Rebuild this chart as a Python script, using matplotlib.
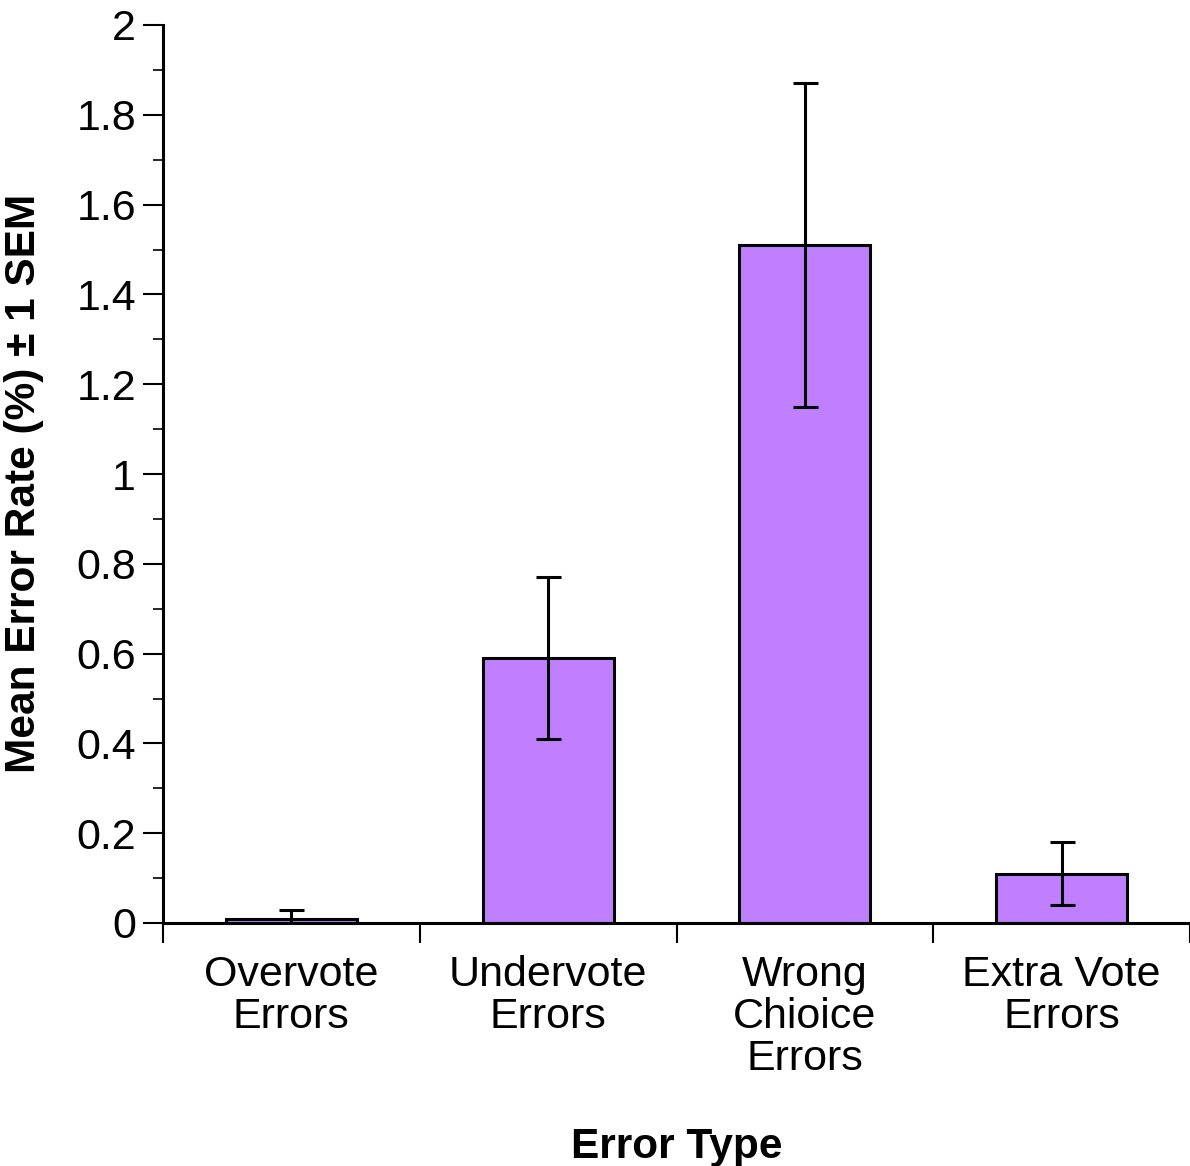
import matplotlib
matplotlib.use("Agg")
import matplotlib.pyplot as plt
import numpy as np
from matplotlib.ticker import MultipleLocator, FixedLocator

categories = ["Overvote\nErrors", "Undervote\nErrors", "Wrong\nChioice\nErrors", "Extra Vote\nErrors"]
means = [0.01, 0.59, 1.51, 0.11]
sems = [0.02, 0.18, 0.36, 0.07]
yticks = [0, 0.2, 0.4, 0.6, 0.8, 1, 1.2, 1.4, 1.6, 1.8, 2]
ytick_labels = ["0", "0.2", "0.4", "0.6", "0.8", "1", "1.2", "1.4", "1.6", "1.8", "2"]

plt.rcParams['font.family'] = ['Liberation Sans', 'DejaVu Sans']

fig = plt.figure(figsize=(11.9, 11.66), dpi=100)
ax = fig.add_axes([163/1190, 1 - 923/1166, 1 - 163/1190, (923 - 25)/1166])

x = np.arange(len(categories))
ax.bar(x, means, width=0.51, color="#BF7FFF", edgecolor="black", linewidth=2.2, zorder=2)
ax.errorbar(x, means, yerr=sems, fmt='none', ecolor='black', elinewidth=2.2,
            capsize=9, capthick=2.2, zorder=3)

ax.set_xlim(-0.5, 3.5)
ax.set_ylim(0, 2)
ax.spines['top'].set_visible(False)
ax.spines['right'].set_visible(False)
ax.spines['left'].set_linewidth(2.2)
ax.spines['bottom'].set_linewidth(2.2)

ax.yaxis.set_major_locator(FixedLocator(yticks))
ax.set_yticklabels(ytick_labels, fontsize=31)
ax.yaxis.set_minor_locator(MultipleLocator(0.1))
ax.tick_params(axis='y', which='major', length=14.4, width=1.5, pad=5, direction='out')
ax.tick_params(axis='y', which='minor', length=7.2, width=1.2, direction='out')

ax.set_xticks(x)
ax.set_xticklabels(categories, fontsize=31, linespacing=1.07)
ax.xaxis.set_minor_locator(FixedLocator([-0.5, 0.5, 1.5, 2.5, 3.5]))
ax.tick_params(axis='x', which='major', length=0, pad=23)
ax.tick_params(axis='x', which='minor', length=14.4, width=1.5, direction='out')

ax.set_ylabel("Mean Error Rate (%) \u00b1 1 SEM", fontsize=30.5, fontweight='bold')
ax.yaxis.set_label_coords(-0.116, 0.49)
ax.set_xlabel("Error Type", fontsize=30.5, fontweight='bold', labelpad=34)

fig.savefig("out.png", dpi=100)
